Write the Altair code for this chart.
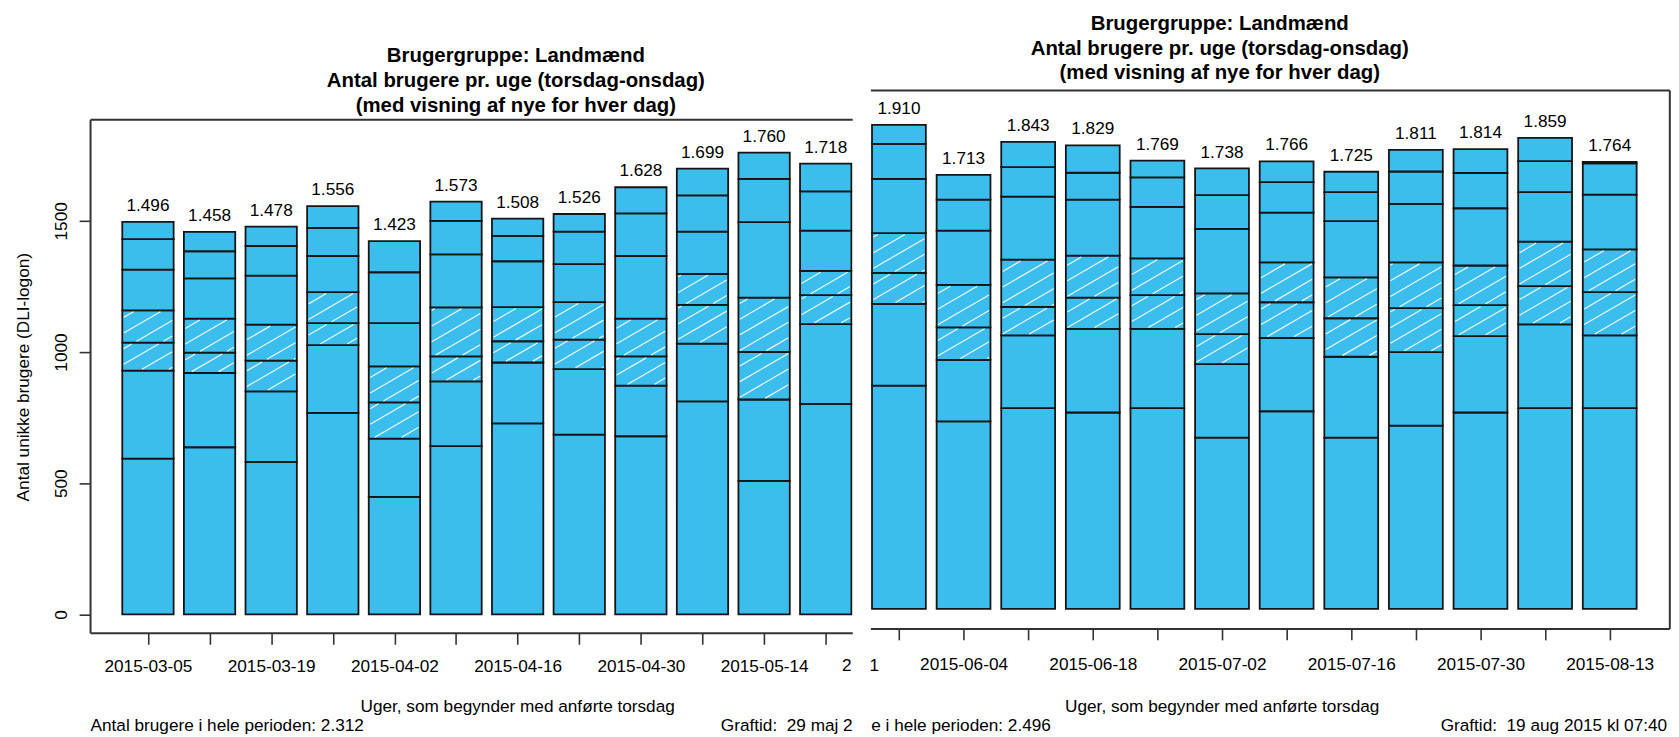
import json
import math
import altair as alt
import pandas as pd

# ---------------- data ----------------
FONT = "Liberation Sans"

title_lines = [
    "Brugergruppe: Landmænd",
    "Antal brugere pr. uge (torsdag-onsdag)",
    "(med visning af nye for hver dag)",
]
y_title = "Antal unikke brugere (DLI-logon)"
x_title = "Uger, som begynder med anførte torsdag"

days = ["torsdag", "fredag", "lørdag", "søndag", "mandag", "tirsdag", "onsdag"]
weekend_days = ["lørdag", "søndag"]

# left graph (made 29 maj 2015)
left_weeks = ["2015-03-05", "2015-03-12", "2015-03-19", "2015-03-26", "2015-04-02", "2015-04-09",
              "2015-04-16", "2015-04-23", "2015-04-30", "2015-05-07", "2015-05-14", "2015-05-21"]
# cumulative number of users at the end of each day (thu..wed)
left_cum = [
    [594, 929, 1036, 1159, 1314, 1430, 1496],
    [637, 920, 998, 1127, 1281, 1384, 1458],
    [581, 850, 967, 1104, 1291, 1404, 1478],
    [768, 1026, 1110, 1228, 1366, 1473, 1556],
    [448, 670, 808, 945, 1110, 1304, 1423],
    [641, 888, 983, 1170, 1372, 1500, 1573],
    [728, 960, 1041, 1171, 1346, 1443, 1508],
    [685, 935, 1047, 1190, 1335, 1459, 1526],
    [679, 872, 983, 1127, 1366, 1528, 1628],
    [812, 1032, 1180, 1298, 1459, 1597, 1699],
    [509, 819, 1000, 1207, 1495, 1660, 1760],
    [802, 1106, 1217, 1309, 1463, 1612, 1718],
]
left_period_users = "Antal brugere i hele perioden: 2.312"
left_graftid = "Graftid:\u00a0 29 maj 2"

# right graph (made 19 aug 2015)
right_weeks = ["2015-05-28", "2015-06-04", "2015-06-11", "2015-06-18", "2015-06-25", "2015-07-02",
               "2015-07-09", "2015-07-16", "2015-07-23", "2015-07-30", "2015-08-06", "2015-08-13"]
right_cum = [
    [881, 1204, 1326, 1483, 1697, 1835, 1910],
    [740, 983, 1111, 1279, 1493, 1615, 1713],
    [792, 1079, 1192, 1378, 1627, 1743, 1843],
    [775, 1105, 1228, 1394, 1615, 1721, 1829],
    [792, 1105, 1238, 1383, 1586, 1703, 1769],
    [676, 966, 1084, 1245, 1500, 1633, 1738],
    [780, 1069, 1210, 1367, 1564, 1684, 1766],
    [676, 995, 1147, 1308, 1530, 1645, 1725],
    [723, 1013, 1187, 1367, 1598, 1726, 1811],
    [775, 1076, 1199, 1355, 1581, 1720, 1814],
    [792, 1123, 1274, 1449, 1645, 1767, 1859],
    [792, 1079, 1250, 1419, 1635, 1758, 1764],
]
right_period_users = "e i hele perioden: 2.496"
right_graftid = "Graftid:\u00a0 19 aug 2015 kl 07:40"
y_ticks = [0, 500, 1000, 1500]

# ---------------- styling / layout ----------------
FILL = "#3BBDED"
INK = "#151515"
FRAME = "#333333"
FS = 17.3
TFS = 20.5

LW, LH = 766.3, 545.7
LX, LY = (-0.418, 14.426), (-72.0, 1996.6)
RW, RH = 803.2, 541.3
RX, RY = (1.38, 16.216), (-78.9, 2045.5)

one = pd.DataFrame({"k": [0]})


def segments(weeks, cum, first_pos):
    rows = []
    for i, (w, c) in enumerate(zip(weeks, cum)):
        prev = 0
        for day, v in zip(days, c):
            rows.append(dict(week=w, pos=first_pos + i, day=day, lo=prev, hi=v,
                             weekend=day in weekend_days))
            prev = v
    return pd.DataFrame(rows)


def totals(weeks, cum, first_pos):
    return pd.DataFrame(dict(week=weeks, pos=[first_pos + i for i in range(len(weeks))],
                             total=[c[-1] for c in cum]))


def hatch(seg, xdom, ydom, W, H, slope=0.58, gap=15.7, inset=1.4):
    sx = W / (xdom[1] - xdom[0])
    sy = H / (ydom[1] - ydom[0])
    rows = []
    for r in seg[seg.weekend].itertuples():
        X0 = (0.2 + 1.2 * r.pos - xdom[0]) * sx + inset
        X1 = (1.2 + 1.2 * r.pos - xdom[0]) * sx - inset
        Y0 = (r.lo - ydom[0]) * sy + inset
        Y1 = (r.hi - ydom[0]) * sy - inset
        kmin = math.floor((Y0 - slope * X1) / gap)
        kmax = math.ceil((Y1 - slope * X0) / gap)
        for k in range(kmin, kmax + 1):
            c = k * gap
            xa = max(X0, (Y0 - c) / slope)
            xb = min(X1, (Y1 - c) / slope)
            if xb - xa > 1:
                rows.append(dict(hx=xa / sx + xdom[0], hy=(slope * xa + c) / sy + ydom[0],
                                 hx2=xb / sx + xdom[0], hy2=(slope * xb + c) / sy + ydom[0]))
    return pd.DataFrame(rows)


def hrule(y, x0, x1, color=FRAME, w=2):
    return alt.Chart(one).mark_rule(color=color, strokeWidth=w).encode(
        x=alt.value(x0), x2=alt.value(x1), y=alt.value(y))


def vrule(x, y0, y1, color=FRAME, w=2):
    return alt.Chart(one).mark_rule(color=color, strokeWidth=w).encode(
        x=alt.value(x), y=alt.value(y0), y2=alt.value(y1))


def label(x, y, s, align="left", size=FS, weight="normal", **kw):
    return alt.Chart(one).mark_text(font=FONT, fontSize=size, fontWeight=weight, color="black",
                                    align=align, baseline="alphabetic", **kw).encode(
        x=alt.value(x), y=alt.value(y), text=alt.value(s))


def panel(weeks, cum, first_pos, W, H, xdom, ydom, x_axis, y_axis, extras):
    seg = segments(weeks, cum, first_pos)
    tot = totals(weeks, cum, first_pos)
    hat = hatch(seg, xdom, ydom, W, H)
    xs = alt.Scale(domain=list(xdom), nice=False, zero=False)
    ys = alt.Scale(domain=list(ydom), nice=False, zero=False)
    bars = alt.Chart(seg).transform_calculate(
        bx="0.2 + 1.2 * datum.pos", bx2="1.2 + 1.2 * datum.pos"
    ).mark_rect(fill=FILL, stroke=INK, strokeWidth=1.8, clip=True).encode(
        x=alt.X("bx:Q", scale=xs, axis=x_axis), x2="bx2:Q",
        y=alt.Y("lo:Q", scale=ys, axis=y_axis), y2="hi:Q",
    )
    hatch_layer = alt.Chart(hat).mark_rule(stroke="white", strokeWidth=1.2, opacity=0.9).encode(
        x=alt.X("hx:Q", scale=xs, axis=None), y=alt.Y("hy:Q", scale=ys, axis=None),
        x2="hx2:Q", y2="hy2:Q",
    )
    values = alt.Chart(tot).transform_calculate(
        cx="0.7 + 1.2 * datum.pos", lab="replace(format(datum.total, ','), ',', '.')"
    ).mark_text(font=FONT, fontSize=FS, color="black", baseline="middle", dy=-16).encode(
        x=alt.X("cx:Q", scale=xs, axis=None), y=alt.Y("total:Q", scale=ys, axis=None),
        text="lab:N",
    )
    return alt.layer(bars, hatch_layer, values, *extras).properties(
        width=W, height=H).resolve_axis(x="independent", y="independent")


def x_axis(positions, labels, title_x, title_y, pad):
    expr = f"{json.dumps(labels, ensure_ascii=False)}[round((datum.value - 0.7) / 1.2)]"
    return alt.Axis(values=[0.7 + 1.2 * p for p in positions], labelExpr=expr,
                    tickSize=11, tickWidth=1.6, tickColor=FRAME, domain=False, grid=False,
                    labelFont=FONT, labelFontSize=FS, labelColor="black", labelAngle=0,
                    labelAlign="center", labelBaseline="alphabetic", labelPadding=pad,
                    labelOverlap=False, labelFlush=False,
                    title=x_title, titleFont=FONT, titleFontSize=FS, titleFontWeight="normal",
                    titleColor="black", titleX=title_x, titleY=title_y, titleAlign="center",
                    titleBaseline="alphabetic")


left_labels = [w if i % 2 == 0 else "" for i, w in enumerate(left_weeks)]
right_labels = [""] + [w if (i + 1) % 2 == 0 else "" for i, w in enumerate(right_weeks)]

left_y_axis = alt.Axis(values=y_ticks, format="d", tickSize=11.5, tickWidth=1.6, tickColor=FRAME,
                       domain=False, grid=False, labelFont=FONT, labelFontSize=FS,
                       labelColor="black", labelAngle=270, labelAlign="center",
                       labelBaseline="alphabetic", labelPadding=12.7,
                       title=y_title, titleFont=FONT, titleFontSize=FS,
                       titleFontWeight="normal", titleColor="black", titleAngle=270,
                       titleX=-62.4, titleY=287.7, titleAlign="center", titleBaseline="alphabetic")

left_extras = [
    alt.Chart(one).mark_rule(color="white", strokeWidth=1).encode(
        x=alt.value(-81.9), y=alt.value(-79.8), y2=alt.value(-78.8)),
    hrule(29.4, 0, LW), vrule(0, 29.4, LH), hrule(LH, 0, LW),
    label(427.6, -28.3, "\n".join(title_lines), align="center", size=TFS, weight="bold",
          lineBreak="\n", lineHeight=24.8),
    label(755.6, 584, "2"),
    label(0, 644.2, left_period_users),
    label(633.7, 644.2, left_graftid),
]
right_extras = [
    hrule(0, 0, RW), vrule(RW, 0, RH), hrule(RH, 0, RW),
    label(350.7, -61, "\n".join(title_lines), align="center", size=TFS, weight="bold",
          lineBreak="\n", lineHeight=24.8),
    label(8.2, 584, "1", align="right"),
    label(0.3, 644.2, right_period_users),
    label(800.5, 644.2, right_graftid, align="right"),
]

left = panel(left_weeks, left_cum, 0, LW, LH, LX, LY,
             x_axis(range(len(left_weeks)), left_labels, 428.9, 78.5, 27.3),
             left_y_axis, left_extras)
right = panel(right_weeks, right_cum, 1, RW, RH, RX, RY,
              x_axis(range(1, len(right_weeks) + 1), right_labels, 352.7, 82.9, 29.4),
              None, right_extras)

chart = alt.hconcat(left, right, spacing=17.6, bounds="flush").properties(
    padding={"left": 0, "top": 0, "right": 0, "bottom": 0}
).configure(font=FONT).configure_view(stroke=None)

chart.save("out.html", embed_options={"renderer": "svg", "actions": False})
